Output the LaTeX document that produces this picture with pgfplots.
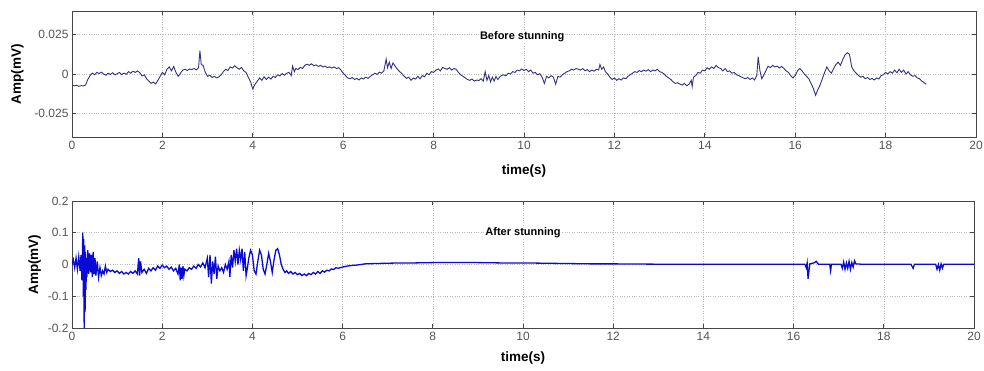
\documentclass[border=0pt]{standalone}
\usepackage{pgfplots}
\usepackage{pgfplotstable}
\pgfplotsset{compat=1.18}
\usepackage{fontspec}
\setmainfont{Liberation Sans}
\definecolor{frame}{RGB}{70,70,70}
\definecolor{tick}{RGB}{85,85,85}
\definecolor{topline}{RGB}{50,50,130}
\definecolor{botline}{RGB}{10,10,215}

\pgfplotstableread{
t v
0.00 -0.0070
0.05 -0.0075
0.10 -0.0072
0.15 -0.0078
0.20 -0.0074
0.25 -0.0076
0.30 -0.0070
0.35 -0.0035
0.40 -0.0010
0.45 0.0005
0.50 -0.0005
0.55 0.0010
0.60 0.0003
0.65 0.0012
0.70 0.0000
0.75 -0.0008
0.80 0.0005
0.85 -0.0003
0.90 0.0008
0.95 -0.0005
1.00 0.0002
1.05 0.0010
1.10 -0.0004
1.15 0.0006
1.20 -0.0002
1.25 0.0015
1.30 0.0005
1.35 0.0018
1.40 0.0010
1.45 0.0020
1.50 0.0008
1.55 -0.0012
1.60 -0.0005
1.65 -0.0030
1.70 -0.0045
1.75 -0.0060
1.80 -0.0052
1.85 -0.0063
1.90 -0.0040
1.95 -0.0015
2.00 0.0010
2.05 -0.0005
2.10 0.0030
2.15 0.0045
2.20 0.0020
2.25 0.0048
2.30 0.0010
2.35 -0.0015
2.40 0.0005
2.45 0.0025
2.50 0.0030
2.55 0.0022
2.60 0.0032
2.65 0.0028
2.70 0.0035
2.75 0.0026
2.80 0.0040
2.83 0.0148
2.86 0.0060
2.90 0.0055
2.95 0.0010
3.00 -0.0015
3.05 -0.0008
3.10 -0.0022
3.15 -0.0015
3.20 -0.0025
3.25 -0.0018
3.30 -0.0005
3.35 0.0015
3.40 0.0030
3.45 0.0022
3.50 0.0045
3.55 0.0038
3.60 0.0052
3.65 0.0040
3.70 0.0030
3.75 0.0042
3.80 0.0020
3.85 0.0010
3.90 -0.0020
3.95 -0.0050
4.00 -0.0095
4.05 -0.0065
4.10 -0.0045
4.15 -0.0025
4.20 -0.0040
4.25 -0.0018
4.30 -0.0035
4.35 -0.0020
4.40 -0.0032
4.45 -0.0015
4.50 -0.0022
4.55 -0.0005
4.60 -0.0012
4.65 0.0003
4.70 -0.0008
4.75 0.0005
4.80 0.0010
4.85 -0.0010
4.88 0.0050
4.92 0.0015
4.95 0.0035
5.00 0.0028
5.05 0.0042
5.10 0.0035
5.15 0.0055
5.20 0.0062
5.25 0.0055
5.30 0.0065
5.35 0.0052
5.40 0.0058
5.45 0.0048
5.50 0.0055
5.55 0.0045
5.60 0.0050
5.65 0.0040
5.70 0.0045
5.75 0.0038
5.80 0.0045
5.85 0.0035
5.90 0.0040
5.95 0.0025
6.00 0.0005
6.05 -0.0010
6.10 -0.0025
6.15 -0.0030
6.20 -0.0022
6.25 -0.0035
6.30 -0.0028
6.35 -0.0038
6.40 -0.0025
6.45 -0.0032
6.50 -0.0020
6.55 -0.0028
6.60 -0.0015
6.65 -0.0005
6.70 0.0005
6.75 -0.0002
6.80 0.0012
6.85 0.0005
6.90 0.0020
6.95 0.0095
6.98 0.0040
7.02 0.0075
7.06 0.0035
7.10 0.0070
7.15 0.0050
7.20 0.0030
7.25 0.0015
7.30 0.0002
7.35 -0.0015
7.40 -0.0028
7.45 -0.0020
7.50 -0.0040
7.55 -0.0025
7.60 -0.0032
7.65 -0.0015
7.70 -0.0030
7.75 -0.0010
7.80 -0.0018
7.85 0.0005
7.90 -0.0005
7.95 0.0015
8.00 0.0010
8.05 0.0025
8.10 0.0032
8.15 0.0020
8.20 0.0042
8.25 0.0035
8.30 0.0030
8.35 0.0040
8.40 0.0025
8.45 0.0035
8.50 0.0030
8.55 0.0010
8.60 -0.0005
8.65 -0.0015
8.70 -0.0025
8.75 -0.0035
8.80 -0.0040
8.85 -0.0032
8.90 -0.0045
8.95 -0.0038
9.00 -0.0042
9.05 -0.0030
9.10 -0.0045
9.14 0.0015
9.18 -0.0040
9.22 -0.0010
9.26 -0.0050
9.30 -0.0020
9.34 -0.0045
9.38 -0.0015
9.42 -0.0035
9.46 -0.0020
9.50 -0.0010
9.55 -0.0005
9.60 -0.0012
9.65 0.0005
9.70 0.0000
9.75 0.0015
9.80 0.0010
9.85 0.0025
9.90 0.0020
9.95 0.0032
10.00 0.0022
10.05 0.0030
10.10 0.0015
10.15 0.0025
10.20 0.0005
10.25 0.0010
10.30 -0.0005
10.35 0.0002
10.40 -0.0020
10.45 -0.0060
10.50 -0.0015
10.55 -0.0025
10.60 -0.0010
10.65 -0.0020
10.70 -0.0065
10.75 -0.0015
10.80 -0.0020
10.85 -0.0005
10.90 0.0005
10.95 0.0015
11.00 0.0020
11.05 0.0030
11.10 0.0025
11.15 0.0035
11.20 0.0030
11.25 0.0025
11.30 0.0035
11.35 0.0020
11.40 0.0028
11.45 0.0015
11.50 0.0025
11.55 0.0018
11.60 0.0030
11.65 0.0025
11.68 0.0060
11.72 0.0030
11.76 0.0045
11.80 0.0015
11.85 0.0000
11.90 -0.0020
11.95 -0.0035
12.00 -0.0025
12.05 -0.0040
12.10 -0.0030
12.15 -0.0038
12.20 -0.0025
12.25 -0.0030
12.30 -0.0015
12.35 -0.0005
12.40 0.0005
12.45 0.0015
12.50 0.0010
12.55 0.0022
12.60 0.0015
12.65 0.0025
12.70 0.0018
12.75 0.0028
12.80 0.0015
12.85 0.0025
12.90 0.0020
12.95 0.0030
13.00 0.0015
13.05 0.0010
13.10 0.0000
13.15 -0.0015
13.20 -0.0025
13.25 -0.0035
13.30 -0.0050
13.35 -0.0060
13.40 -0.0055
13.45 -0.0065
13.50 -0.0070
13.55 -0.0060
13.60 -0.0075
13.65 -0.0065
13.70 -0.0040
13.72 -0.0080
13.75 -0.0020
13.80 -0.0010
13.85 0.0010
13.90 0.0005
13.95 0.0025
14.00 0.0020
14.05 0.0040
14.10 0.0030
14.15 0.0045
14.20 0.0035
14.25 0.0055
14.30 0.0040
14.35 0.0035
14.40 0.0020
14.45 0.0035
14.50 0.0015
14.55 0.0020
14.60 0.0005
14.65 0.0010
14.70 -0.0005
14.75 -0.0010
14.80 -0.0018
14.85 -0.0025
14.90 -0.0030
14.95 -0.0022
15.00 -0.0035
15.05 -0.0025
15.10 -0.0038
15.15 -0.0010
15.18 0.0110
15.22 0.0020
15.26 -0.0030
15.30 -0.0010
15.35 0.0020
15.40 0.0050
15.45 0.0040
15.50 0.0055
15.55 0.0045
15.60 0.0050
15.65 0.0038
15.70 0.0048
15.75 0.0035
15.80 0.0020
15.85 0.0010
15.90 -0.0010
15.95 -0.0025
16.00 -0.0010
16.05 0.0020
16.10 0.0035
16.15 0.0020
16.20 0.0000
16.25 -0.0015
16.30 -0.0030
16.35 -0.0060
16.40 -0.0090
16.45 -0.0135
16.50 -0.0100
16.55 -0.0070
16.60 -0.0030
16.65 0.0010
16.70 0.0045
16.75 0.0020
16.80 0.0005
16.85 0.0035
16.90 0.0060
16.95 0.0075
17.00 0.0055
17.05 0.0090
17.10 0.0120
17.15 0.0135
17.20 0.0125
17.25 0.0045
17.30 0.0020
17.35 0.0005
17.40 -0.0010
17.45 -0.0020
17.50 -0.0015
17.55 -0.0030
17.60 -0.0022
17.65 -0.0035
17.70 -0.0028
17.75 -0.0038
17.80 -0.0025
17.85 -0.0032
17.90 -0.0010
17.95 -0.0005
18.00 0.0010
18.05 0.0000
18.10 0.0015
18.15 0.0005
18.20 0.0025
18.25 0.0008
18.30 0.0030
18.35 0.0010
18.40 0.0025
18.45 0.0000
18.50 0.0015
18.55 -0.0005
18.60 -0.0015
18.65 -0.0010
18.70 -0.0025
18.75 -0.0030
18.80 -0.0045
18.85 -0.0055
18.90 -0.0065
}\before

\pgfplotstableread{
t v
0.00 0.000
0.03 0.015
0.06 -0.010
0.09 0.020
0.12 -0.015
0.15 0.025
0.18 -0.020
0.20 0.030
0.22 -0.050
0.24 0.100
0.25 -0.100
0.26 0.080
0.27 -0.200
0.28 0.060
0.29 -0.150
0.30 0.040
0.31 -0.080
0.32 0.020
0.33 -0.040
0.35 0.045
0.37 -0.030
0.39 0.035
0.41 -0.025
0.43 0.030
0.45 -0.040
0.47 0.040
0.49 -0.030
0.51 0.020
0.53 -0.035
0.56 0.010
0.59 -0.040
0.62 -0.010
0.65 -0.035
0.68 -0.020
0.71 -0.030
0.74 -0.005
0.77 -0.025
0.80 -0.015
0.85 -0.022
0.90 -0.018
0.95 -0.025
1.00 -0.020
1.05 -0.028
1.10 -0.022
1.15 -0.030
1.20 -0.025
1.25 -0.030
1.30 -0.022
1.35 -0.028
1.40 -0.020
1.45 -0.030
1.48 0.020
1.50 -0.035
1.52 0.010
1.55 -0.025
1.60 -0.015
1.65 -0.028
1.70 -0.012
1.75 -0.020
1.80 -0.010
1.85 -0.018
1.90 -0.005
1.95 -0.012
2.00 -0.002
2.05 -0.010
2.10 -0.005
2.15 -0.015
2.20 -0.008
2.25 -0.020
2.30 -0.012
2.35 -0.030
2.38 0.000
2.40 -0.050
2.42 -0.010
2.44 -0.045
2.46 -0.005
2.48 -0.035
2.50 -0.015
2.55 -0.020
2.60 -0.010
2.65 -0.015
2.70 -0.005
2.75 -0.012
2.80 0.000
2.85 -0.008
2.90 0.005
2.95 -0.010
3.00 0.020
3.03 -0.040
3.06 0.030
3.09 -0.060
3.12 0.010
3.15 -0.030
3.18 0.025
3.21 -0.045
3.24 -0.005
3.28 -0.020
3.32 -0.010
3.36 -0.025
3.40 0.000
3.44 -0.015
3.48 0.010
3.50 -0.040
3.53 0.030
3.56 -0.010
3.59 0.045
3.62 0.010
3.65 0.050
3.68 0.000
3.71 0.045
3.74 0.015
3.77 0.050
3.80 -0.020
3.83 0.040
3.86 -0.035
3.89 -0.010
3.92 0.020
3.96 0.045
4.00 0.030
4.04 -0.020
4.08 -0.030
4.12 0.010
4.16 0.045
4.20 0.030
4.24 -0.015
4.28 -0.030
4.32 0.000
4.36 0.035
4.40 0.010
4.44 -0.025
4.48 0.015
4.52 0.045
4.56 0.050
4.60 0.030
4.64 0.000
4.68 -0.015
4.72 -0.025
4.76 -0.020
4.80 -0.028
4.85 -0.022
4.90 -0.030
4.95 -0.025
5.00 -0.032
5.05 -0.028
5.10 -0.035
5.15 -0.030
5.20 -0.035
5.25 -0.028
5.30 -0.032
5.35 -0.025
5.40 -0.030
5.45 -0.022
5.50 -0.028
5.55 -0.020
5.60 -0.024
5.65 -0.018
5.70 -0.020
5.75 -0.014
5.80 -0.016
5.85 -0.010
5.90 -0.012
6.00 -0.008
6.10 -0.005
6.20 -0.003
6.30 -0.002
6.40 0.000
6.50 0.002
6.70 0.003
7.00 0.004
7.30 0.005
7.60 0.005
8.00 0.006
8.50 0.006
9.00 0.006
9.50 0.005
10.00 0.005
10.50 0.004
11.00 0.003
11.50 0.002
12.00 0.002
13.00 0.001
14.00 0.001
15.00 0.001
16.00 0.001
16.25 0.001
16.28 -0.010
16.30 0.005
16.32 -0.045
16.34 -0.020
16.36 0.002
16.45 0.005
16.50 0.010
16.55 0.001
16.80 0.001
16.82 -0.020
16.84 0.001
17.05 0.001
17.08 -0.012
17.11 0.008
17.14 -0.015
17.17 0.005
17.20 -0.012
17.23 0.010
17.26 -0.015
17.29 0.006
17.32 -0.008
17.35 0.012
17.38 0.002
17.50 0.001
18.60 0.001
18.65 -0.012
18.68 0.001
19.15 0.001
19.18 -0.015
19.21 0.000
19.24 -0.018
19.27 0.002
19.30 -0.012
19.33 0.001
20.00 0.001
}\after

\pgfplotsset{
  mystyle/.style={
    scale only axis,
    xmin=0, xmax=20,
    xtick={0,2,...,20},
    xticklabels={0,2,4,6,8,10,12,14,16,18,20},
    scaled y ticks=false, scaled x ticks=false,
    axis line style={frame, line width=0.9bp},
    tick style={frame, line width=0.7bp},
    major tick length=4bp,
    tick align=inside,
    xtick pos=both, ytick pos=both,
    grid=major,
    major grid style={gray!55, dotted, line width=0.6bp},
    tick label style={font=\fontsize{12bp}{14bp}\selectfont, text=tick},
    /pgf/number format/assume math mode=true,
    xlabel={time(s)},
    ylabel={Amp(mV)},
    label style={font=\bfseries\fontsize{13.5bp}{15bp}\selectfont},
    xticklabel style={yshift=-1bp},
  }
}

\begin{document}
\begin{tikzpicture}[x=1bp,y=1bp]
\path[use as bounding box] (0,0) rectangle (984,370);
\begin{axis}[mystyle,
  at={(72bp,233bp)}, anchor=south west,
  width=904bp, height=126bp,
  ymin=-0.04, ymax=0.04,
  ytick={-0.025,0,0.025},
  yticklabels={-0.025,0,0.025},
  xlabel style={yshift=-8bp},
  ylabel style={yshift=4bp},
]
\addplot[topline, line width=0.9bp] table[x=t,y=v] {\before};
\node[font=\bfseries\fontsize{11bp}{13bp}\selectfont, fill=white, inner sep=1bp] at (rel axis cs:0.498,0.80) {Before stunning};
\end{axis}
\begin{axis}[mystyle,
  at={(72bp,42bp)}, anchor=south west,
  width=902bp, height=127bp,
  ymin=-0.2, ymax=0.2,
  ytick={-0.2,-0.1,0,0.1,0.2},
  yticklabels={-0.2,-0.1,0,0.1,0.2},
  xlabel style={yshift=-4bp},
  ylabel style={yshift=0bp},
]
\addplot[botline, line width=1.3bp] table[x=t,y=v] {\after};
\node[font=\bfseries\fontsize{11bp}{13bp}\selectfont, fill=white, inner sep=1bp] at (rel axis cs:0.50,0.75) {After stunning};
\end{axis}
\end{tikzpicture}
\end{document}
